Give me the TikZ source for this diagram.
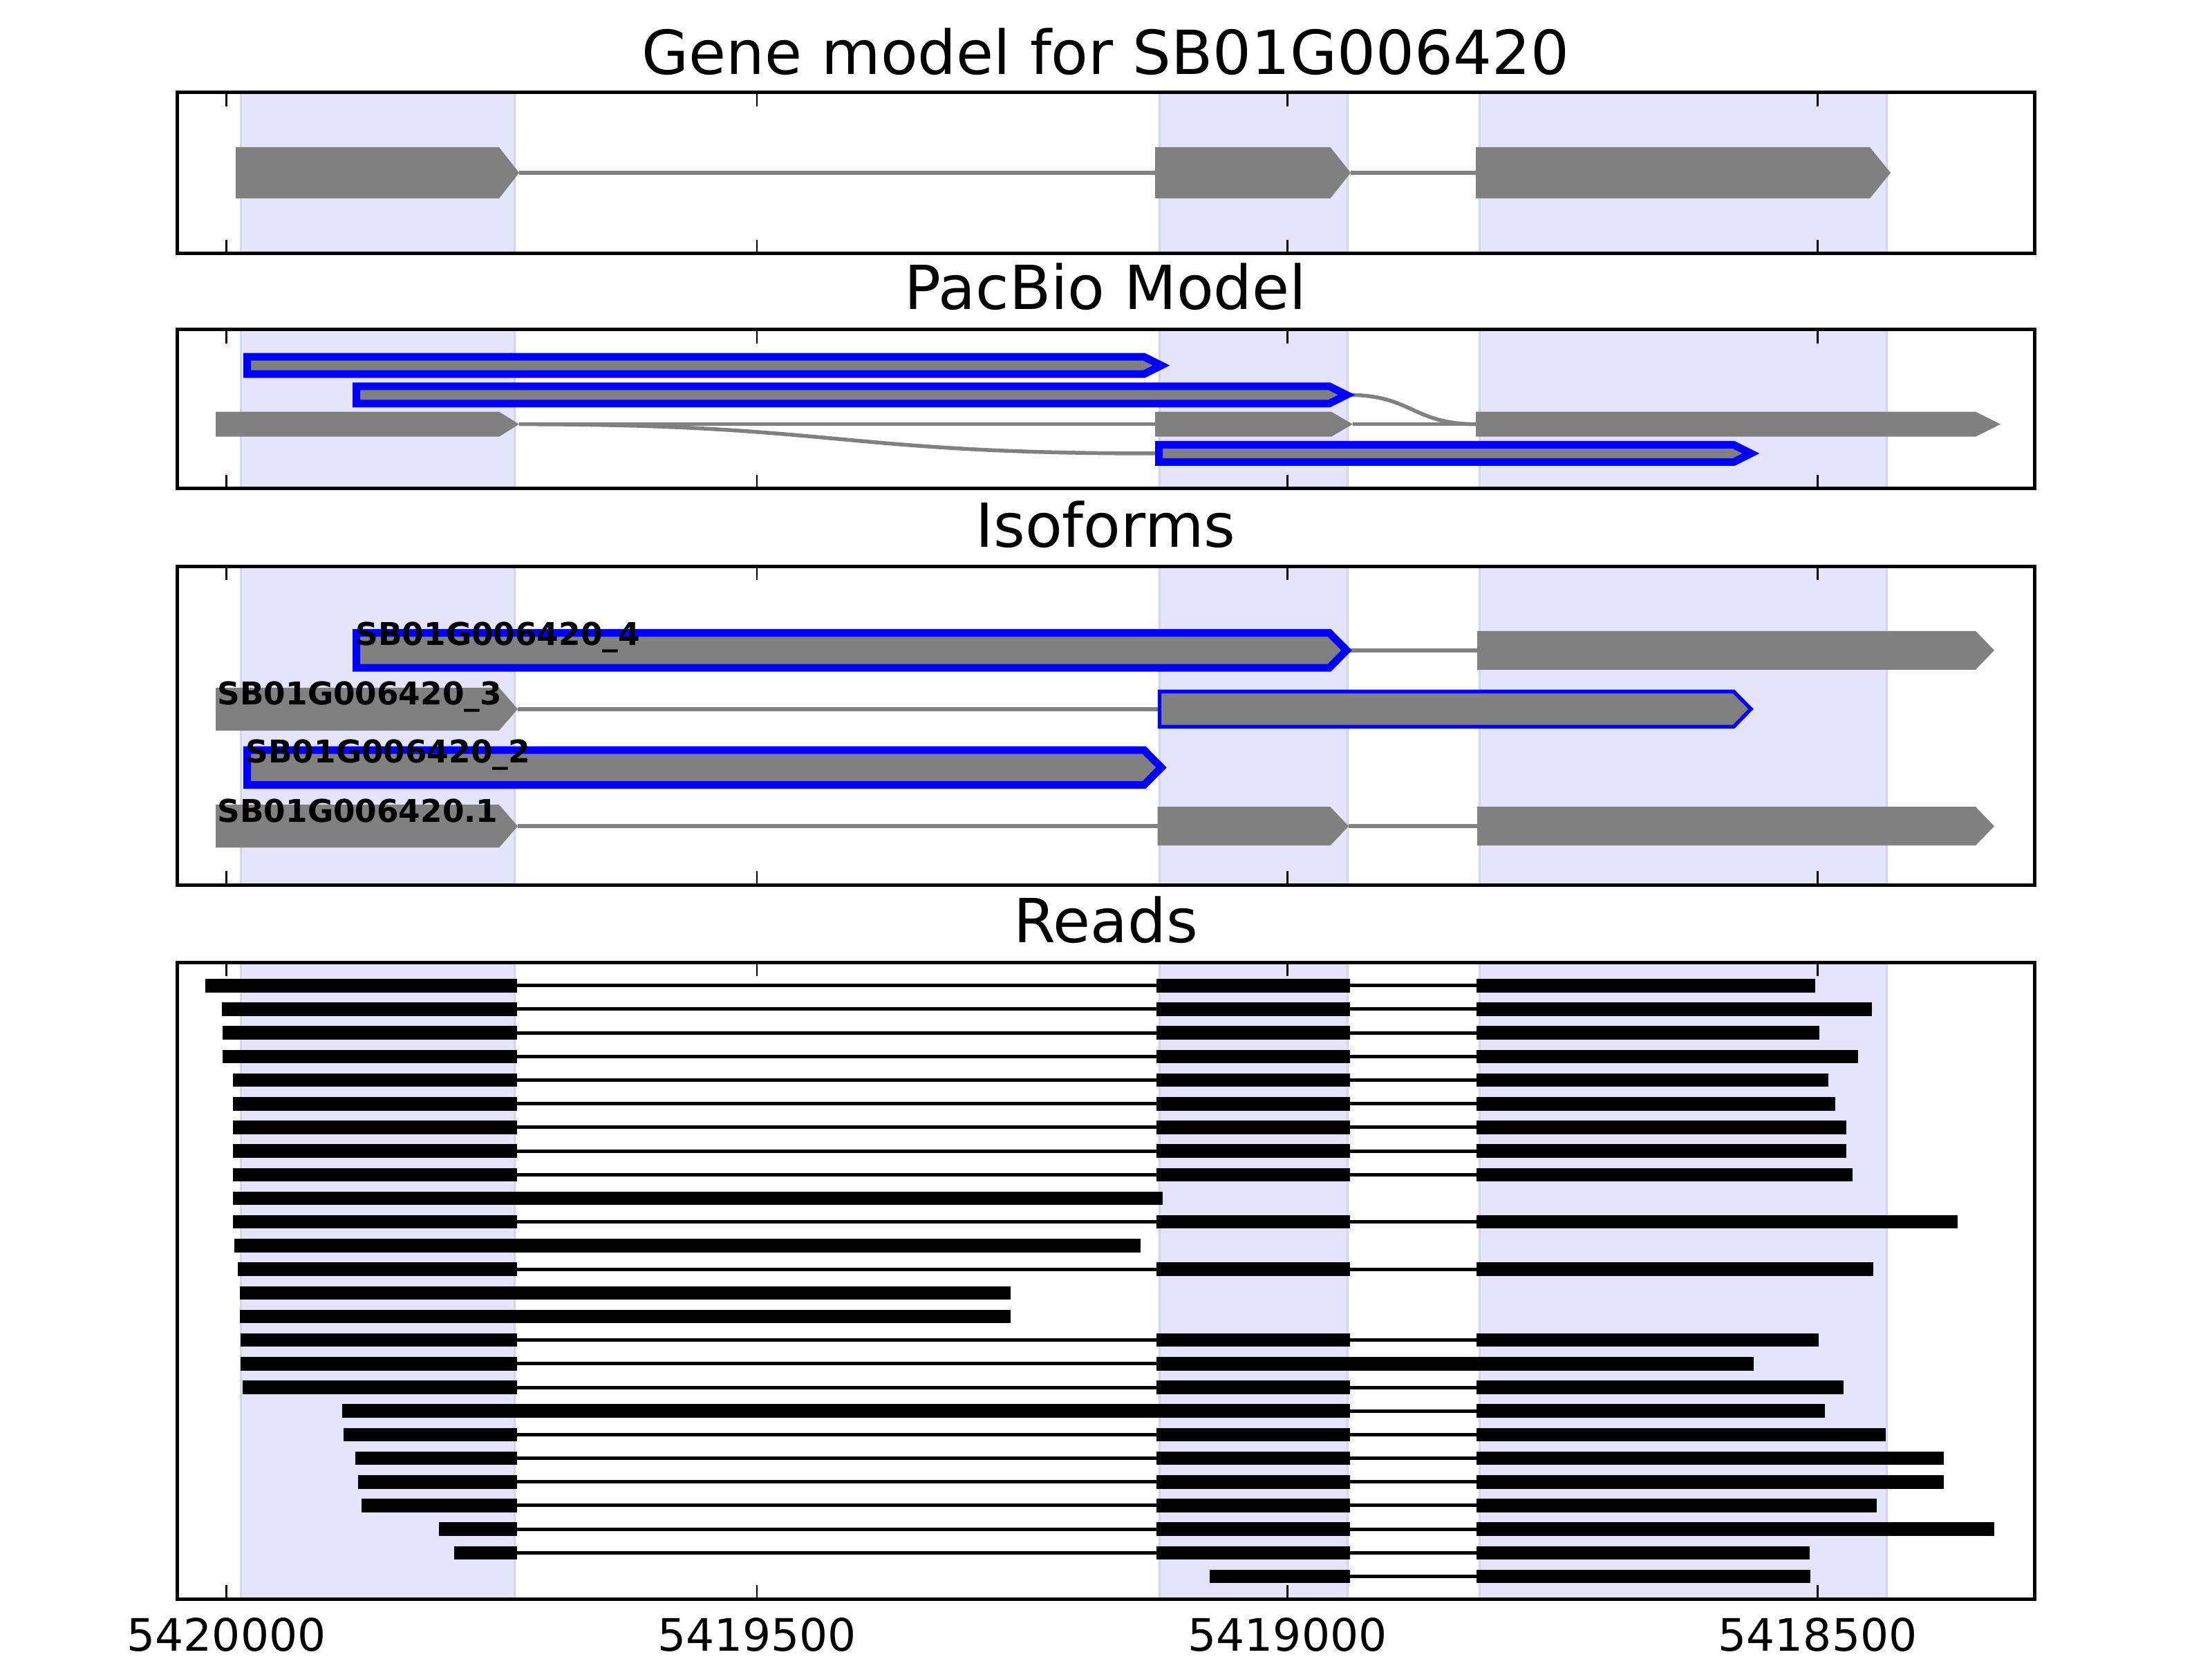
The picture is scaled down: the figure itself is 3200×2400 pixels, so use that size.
\documentclass[tikz,border=0pt]{standalone}
\usepackage{fontspec}
\setmainfont{DejaVu Sans}
\usepackage{tikz}
\usetikzlibrary{arrows.meta, positioning, calc}
\definecolor{spancol}{RGB}{228,228,253}
\definecolor{spanedge}{RGB}{212,212,236}
\definecolor{exoncol}{RGB}{128,128,128}

\begin{document}
\begin{tikzpicture}[
    x=0.1mm, y=-0.1mm, % 1 像素 = 0.1mm, y 轴向下
    frame/.style={black, line width=0.5mm},   % 坐标框
    tick/.style={black, line width=0.22mm},   % 刻度线
    ttl/.style={anchor=base, font=\fontsize{25}{30}\selectfont}, % 子图标题
    ticklab/.style={anchor=base, font=\fontsize{18.4}{22}\selectfont},
    isolab/.style={anchor=base west, inner sep=0pt, font=\bfseries\fontsize{12.9}{15}\selectfont},
    span/.style={fill=spancol, draw=spanedge, line width=0.3mm}, % 外显子背景带
    exon/.style={fill=exoncol},
    intron/.style={exoncol, line width=0.55mm},
    pbox/.style={draw=blue, fill=exoncol, line width=1.1mm},   % 蓝框(粗)
    pthin/.style={draw=blue, fill=exoncol, line width=0.54mm}, % 蓝框(细)
    read/.style={fill=black},
    junc/.style={black, line width=0.5mm}
]
    \useasboundingbox (0,0) rectangle (3200,2400);

    % 1. 背景带
    \foreach \ya/\yb in {134/367, 477/707, 819/1280, 1392/2313} {
        \foreach \xa/\xb in {348/744, 1677/1949, 2140/2729}
            \filldraw[span] (\xa,\ya) rectangle (\xb,\yb);
    }

    % 2. 基因模型
    \draw[intron] (751,250) -- (1671,250) (1954,250) -- (2135,250);
    \foreach \xl/\xs/\xt in {341/722/751, 1671/1924.5/1954, 2135/2705/2735}
        \fill[exon] (\xl,213) -- (\xs,213) -- (\xt,250) -- (\xs,287) -- (\xl,287) -- cycle;

    % 3. PacBio 模型
    \draw[intron] (751,613.7) -- (1671,613.7) (1957,613.7) -- (2135,613.7);
    \draw[intron] (751,613.7) .. controls (1211,613.7) and (1211,656) .. (1671,656);
    \draw[intron] (1950,571.3) .. controls (2043,571.3) and (2043,613.7) .. (2136,613.7);
    \foreach \xl/\xs/\xt in {312/722/751, 1671/1926/1957, 2135/2858/2894}
        \fill[exon] (\xl,595.7) -- (\xs,595.7) -- (\xt,613.7) -- (\xs,631.7) -- (\xl,631.7) -- cycle;
    \foreach \xl/\xs/\xt/\yc in {357.5/1655/1680/528.7, 515.5/1923/1948/571.3, 1676.5/2508/2533/656}
        \filldraw[pbox] (\xl,\yc-12.5) -- (\xs,\yc-12.5) -- (\xt,\yc) -- (\xs,\yc+12.5) -- (\xl,\yc+12.5) -- cycle;

    % 4. 异构体
    \draw[intron] (1948,940.8) -- (2137,940.8) (749,1025.8) -- (1677,1025.8)
        (749,1195.2) -- (1674.5,1195.2) (1951,1195.2) -- (2137,1195.2);
    \foreach \xl/\xs/\xt/\yc/\hh in {2137/2858/2885/940.8/28, 312/722/749/1025.8/31, 312/722/749/1195.2/31,
            1674.5/1924.5/1951/1195.2/28, 2137/2858/2885/1195.2/28}
        \fill[exon] (\xl,\yc-\hh) -- (\xs,\yc-\hh) -- (\xt,\yc) -- (\xs,\yc+\hh) -- (\xl,\yc+\hh) -- cycle;
    \foreach \xl/\xs/\xt/\yc in {515.7/1923/1948/940.8, 357.5/1655/1680/1110.3}
        \filldraw[pbox] (\xl,\yc-25.3) -- (\xs,\yc-25.3) -- (\xt,\yc) -- (\xs,\yc+25.3) -- (\xl,\yc+25.3) -- cycle;
    \filldraw[pthin] (1677.5,1000.3) -- (2508,1000.3) -- (2533,1025.8) -- (2508,1051.3) -- (1677.5,1051.3) -- cycle;
    \node[isolab] (iso4) at (514,933.5) {SB01G006420\_4};
    \node[isolab] (iso3) at (314,1019.3) {SB01G006420\_3};
    \node[isolab] (iso2) at (355,1103.3) {SB01G006420\_2};
    \node[isolab] (iso1) at (314,1189.3) {SB01G006420.1};

    % 5. 读段
    \foreach \k/\ra/\rb in {0/297/2626, 1/321/2708, 2/322/2632, 3/322/2688, 4/337/2645, 5/337/2655,
            6/337/2671, 7/337/2671, 8/337/2680, 10/337/2832, 12/344/2710, 15/348/2631, 17/351/2667,
            19/497/2728, 20/514/2812, 21/518/2812, 22/523/2715, 23/635/2885, 24/657/2618} {
        \pgfmathsetmacro\yr{1425.8+34.19*\k}
        \draw[junc] (748,\yr) -- (2136,\yr);
        \fill[read] (\ra,\yr-9.75) rectangle (748,\yr+9.75);
        \fill[read] (1673,\yr-9.75) rectangle (1953,\yr+9.75);
        \fill[read] (2136,\yr-9.75) rectangle (\rb,\yr+9.75);
    }
    \foreach \k/\ra/\rb in {9/337/1682, 11/339/1650, 13/347/1462, 14/347/1462} {
        \pgfmathsetmacro\yr{1425.8+34.19*\k}
        \fill[read] (\ra,\yr-9.75) rectangle (\rb,\yr+9.75);
    }
    \foreach \k/\ra/\rb in {16/348/2537} {
        \pgfmathsetmacro\yr{1425.8+34.19*\k}
        \draw[junc] (748,\yr) -- (1673,\yr);
        \fill[read] (\ra,\yr-9.75) rectangle (748,\yr+9.75);
        \fill[read] (1673,\yr-9.75) rectangle (\rb,\yr+9.75);
    }
    \foreach \k/\ra/\rb in {18/495/2640, 25/1750/2619} {
        \pgfmathsetmacro\yr{1425.8+34.19*\k}
        \draw[junc] (1953,\yr) -- (2136,\yr);
        \fill[read] (\ra,\yr-9.75) rectangle (1953,\yr+9.75);
        \fill[read] (2136,\yr-9.75) rectangle (\rb,\yr+9.75);
    }

    % 6. 坐标框 + 刻度 + 标题
    \foreach \ya/\yb in {134/367, 477/707, 819/1280, 1392/2313} {
        \foreach \t in {327.5, 1095, 1862.5, 2629.5} {
            \draw[tick] (\t,\ya) -- ++(0,20);
            \draw[tick] (\t,\yb) -- ++(0,-20);
        }
        \draw[frame] (256,\ya) rectangle (2943,\yb);
    }
    \foreach \t/\lab in {327.5/5420000, 1095/5419500, 1862.5/5419000, 2629.5/5418500}
        \node[ticklab] (tk\lab) at (\t,2388) {\lab};
    \node[ttl] (gene) at (1599.5,108) {Gene model for SB01G006420};
    \node[ttl] (pacbio) at (1599.5,448) {PacBio Model};
    \node[ttl] (isoforms) at (1599.5,791) {Isoforms};
    \node[ttl] (reads) at (1599.5,1363) {Reads};
\end{tikzpicture}
\end{document}
